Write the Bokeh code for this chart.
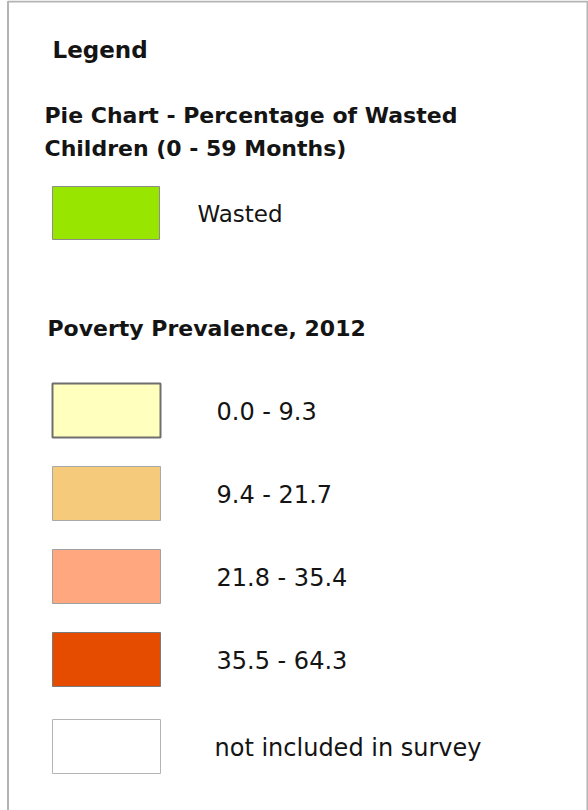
from bokeh.plotting import figure
from bokeh.models import Range1d, ColumnDataSource
from bokeh.core.properties import value
from bokeh.embed import file_html
from bokeh.resources import INLINE

# ---- data ----
legend_title = "Legend"
pie_title = ["Pie Chart - Percentage of Wasted", "Children (0 - 59 Months)"]
pie_labels = ["Wasted"]
pie_colors = ["#98E600"]
poverty_title = "Poverty Prevalence, 2012"
poverty_labels = ["0.0 - 9.3", "9.4 - 21.7", "21.8 - 35.4", "35.5 - 64.3", "not included in survey"]
poverty_colors = ["#FFFFBE", "#F5CA7A", "#FFA77F", "#E64C00", "#FFFFFF"]

# ---- layout / style ----
W, H = 588, 810
FONT = value("DejaVu Sans")
TXT = "#141414"
TOFF = -8  # text baseline correction
sw_left, sw_right, sw_h = 52, 160, 54
pov_tops = [383, 466, 549, 632, 719]
pov_line_colors = ["#6e6e6e", "#a8a8a8", "#a0a0a0", "#7a7a7a", "#b4b4b4"]
pov_line_widths = [2, 1, 1, 1, 1]
pov_label_x = [216, 216, 216, 216, 214]
pie_tops = [186]

p = figure(width=W, height=H, x_range=Range1d(0, W), y_range=Range1d(H, 0),
           toolbar_location=None, output_backend="svg", min_border=0,
           outline_line_color=None, margin=0)
p.axis.visible = False
p.grid.visible = False
p.background_fill_color = "white"
p.border_fill_color = "white"

# outer frame
p.quad(left=[7.5], right=[587], top=[1], bottom=[830], fill_color=None,
       line_color="#b4b4b4", line_width=2)

# headings
p.text(x=[52], y=[57 + TOFF], text=[legend_title], text_font=FONT, text_font_style="bold",
       text_font_size="23px", text_color=TXT, text_baseline="alphabetic")
p.text(x=[44, 44], y=[123 + TOFF, 156 + TOFF], text=pie_title, text_font=FONT, text_font_style="bold",
       text_font_size="22px", text_color=TXT, text_baseline="alphabetic")
p.text(x=[47], y=[336 + TOFF], text=[poverty_title], text_font=FONT, text_font_style="bold",
       text_font_size="22px", text_color=TXT, text_baseline="alphabetic")

# pie swatch
src_pie = ColumnDataSource(dict(
    left=[sw_left] * len(pie_labels), right=[sw_right - 1] * len(pie_labels),
    top=pie_tops, bottom=[t + sw_h - 1 for t in pie_tops], color=pie_colors,
    lx=[197] * len(pie_labels), ly=[t + 35 + TOFF for t in pie_tops], label=pie_labels))
p.quad(left="left", right="right", top="top", bottom="bottom", fill_color="color",
       line_color="#8c8c8c", line_width=1, source=src_pie)
p.text(x="lx", y="ly", text="label", source=src_pie, text_font=FONT,
       text_font_size="23px", text_color=TXT, text_baseline="alphabetic")

# poverty swatches
src_pov = ColumnDataSource(dict(
    left=[sw_left] * len(poverty_labels), right=[sw_right] * len(poverty_labels),
    top=pov_tops, bottom=[t + sw_h for t in pov_tops], color=poverty_colors,
    lc=pov_line_colors, lw=pov_line_widths,
    lx=pov_label_x, ly=[t + 36 + TOFF for t in pov_tops], label=poverty_labels))
p.quad(left="left", right="right", top="top", bottom="bottom", fill_color="color",
       line_color="lc", line_width="lw", source=src_pov)
p.text(x="lx", y="ly", text="label", source=src_pov, text_font=FONT,
       text_font_size="24px", text_color=TXT, text_baseline="alphabetic")

open("out.html", "w").write(file_html(p, INLINE))
